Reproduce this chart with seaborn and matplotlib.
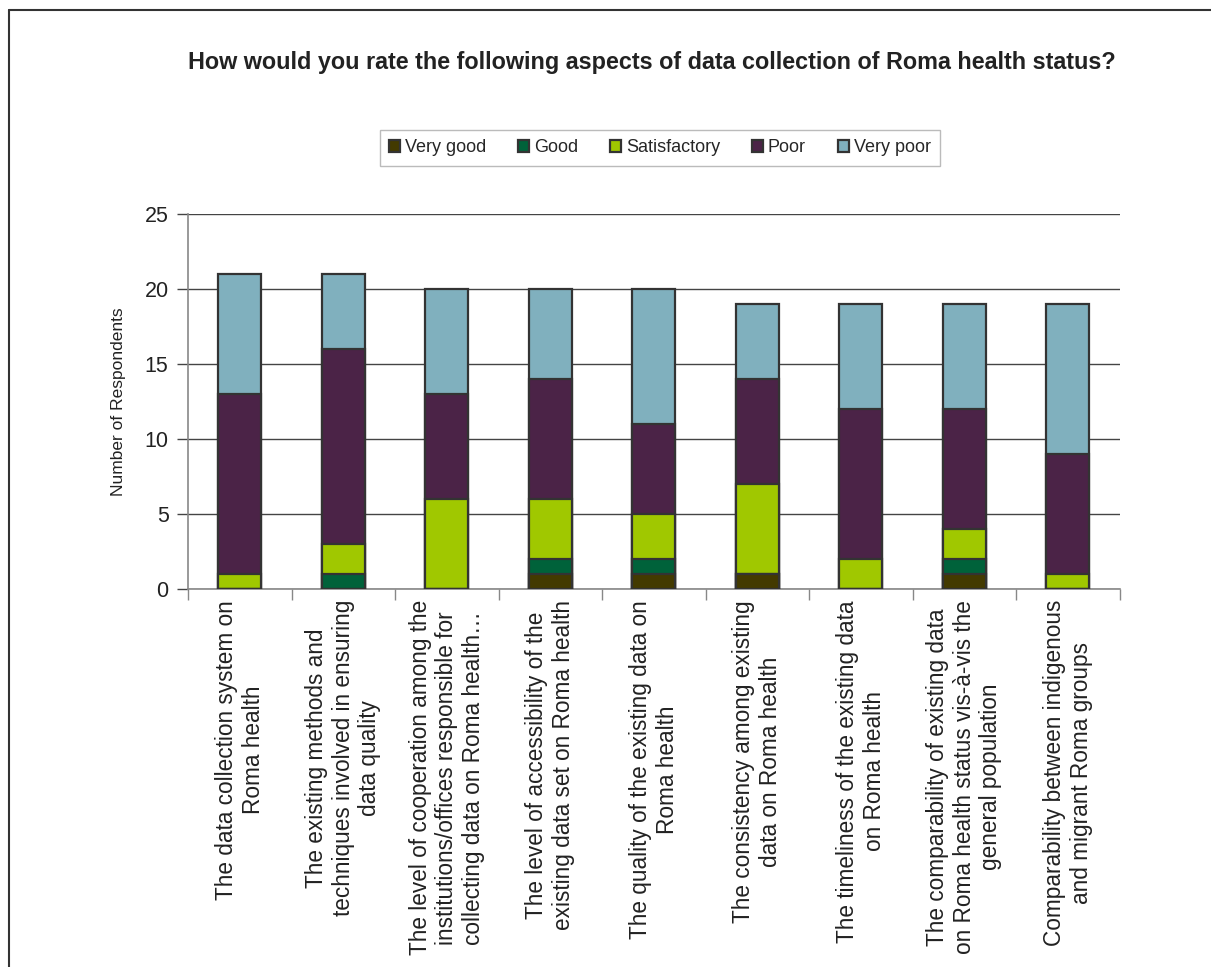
import numpy as np
import pandas as pd
import matplotlib
matplotlib.use("Agg")
import matplotlib.pyplot as plt
import seaborn as sns
from matplotlib.lines import Line2D

# data
aspects = [
    "The data collection system on\nRoma health",
    "The existing methods and\ntechniques involved in ensuring\ndata quality",
    "The level of cooperation among the\ninstitutions/offices responsible for\ncollecting data on Roma health\u2026",
    "The level of accessibility of the\nexisting data set on Roma health",
    "The quality of the existing data on\nRoma health",
    "The consistency among existing\ndata on Roma health",
    "The timeliness of the existing data\non Roma health",
    "The comparability of existing data\non Roma health status vis-\u00e0-vis the\ngeneral population",
    "Comparability between indigenous\nand migrant Roma groups",
]
ratings = ["Very good", "Good", "Satisfactory", "Poor", "Very poor"]
very_good = [0, 0, 0, 1, 1, 1, 0, 1, 0]
good = [0, 1, 0, 1, 1, 0, 0, 1, 0]
satisfactory = [1, 2, 6, 4, 3, 6, 2, 2, 1]
poor = [12, 13, 7, 8, 6, 7, 10, 8, 8]
very_poor = [8, 5, 7, 6, 9, 5, 7, 7, 10]
colors = ["#433a00", "#00623a", "#a0c800", "#4b2347", "#80b0be"]

df = pd.DataFrame({"aspect": aspects, "Very good": very_good, "Good": good,
                   "Satisfactory": satisfactory, "Poor": poor, "Very poor": very_poor})
cum = df[ratings].cumsum(axis=1)

sns.set_style("white")
plt.rcParams["font.family"] = ["Liberation Sans", "DejaVu Sans"]

fig = plt.figure(figsize=(12.11, 9.67), dpi=100)
ax = fig.add_axes([188 / 1211, 1 - 589 / 967, 931.5 / 1211, 375 / 967])

# draw cumulative totals from the top segment down so the stack shows through
for rating, col in reversed(list(zip(ratings, colors))):
    sns.barplot(x=df["aspect"], y=cum[rating], color=col, width=0.415,
                edgecolor="#333333", linewidth=1.6, label=rating,
                order=aspects, ax=ax, zorder=3, saturation=1, legend=False)

ax.set_xlim(-0.5, len(aspects) - 0.5)
ax.set_ylim(0, 25)
ax.set_yticks(range(0, 26, 5))
ax.yaxis.grid(True, color="#444444", linewidth=1.0, zorder=0)
ax.set_axisbelow(True)
for side in ["top", "right"]:
    ax.spines[side].set_visible(False)
ax.spines["left"].set_color("#888888")
ax.spines["bottom"].set_color("#888888")
ax.spines["left"].set_linewidth(1.2)
ax.spines["bottom"].set_linewidth(1.2)

ax.tick_params(axis="y", which="major", length=8, width=1.0, color="#444444",
               labelsize=15.5, labelcolor="#222222", left=True, direction="out", pad=6)
ax.tick_params(axis="x", which="major", length=0, pad=8)
ax.set_xticks(np.arange(-0.5, len(aspects), 1.0), minor=True)
ax.tick_params(axis="x", which="minor", length=8, width=1.0, color="#888888",
               bottom=True, direction="out")
ax.set_xticks(range(len(aspects)))
ax.set_xticklabels(aspects, rotation=90, ha="center", va="top",
                   multialignment="center", fontsize=16.3, color="#222222")
ax.set_xlabel("")
ax.set_ylabel("Number of Respondents", fontsize=12.5, color="#222222", labelpad=13)

handles, labels = ax.get_legend_handles_labels()
order = [labels.index(r) for r in ratings]
if ax.get_legend() is not None:
    ax.get_legend().remove()
leg = fig.legend([handles[i] for i in order], ratings, ncol=5,
                 loc="center", bbox_to_anchor=(660 / 1211, 1 - 148 / 967),
                 fontsize=13, frameon=True, fancybox=False, edgecolor="#aaaaaa",
                 handlelength=0.6, handleheight=0.6, handletextpad=0.25,
                 columnspacing=1.8, borderpad=0.5)
leg.get_frame().set_linewidth(1.0)

fig.text(652 / 1211, 1 - 63 / 967,
         "How would you rate the following aspects of data collection of Roma health status?",
         ha="center", va="center", fontsize=16.8, fontweight="bold", color="#222222")

# frame around the chart area
fig.add_artist(Line2D([9 / 1211, 1.0], [1 - 10 / 967, 1 - 10 / 967],
                      transform=fig.transFigure, color="#333333", linewidth=1.5))
fig.add_artist(Line2D([9 / 1211, 9 / 1211], [0.0, 1 - 10 / 967],
                      transform=fig.transFigure, color="#333333", linewidth=1.5))

fig.savefig("out.png", dpi=100)
